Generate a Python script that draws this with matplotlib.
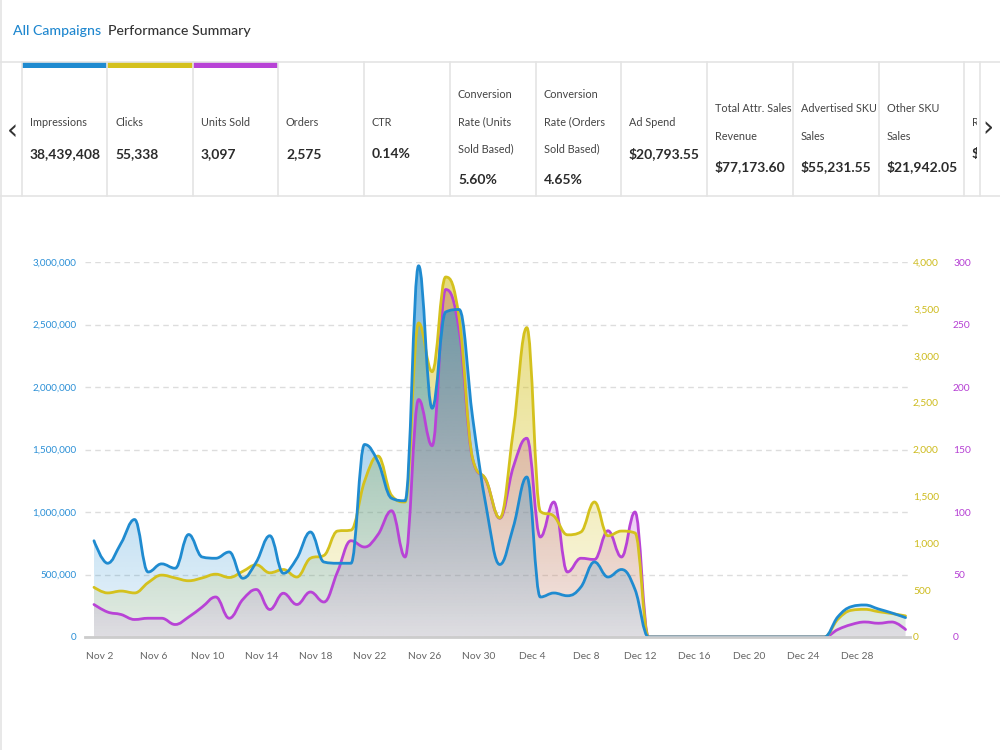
import numpy as np
import pandas as pd
import matplotlib
matplotlib.use('Agg')
import matplotlib.pyplot as plt
from matplotlib.path import Path
from matplotlib.patches import PathPatch, Rectangle
from matplotlib.lines import Line2D
from matplotlib.transforms import ScaledTranslation, Bbox
from matplotlib import font_manager as fm

# daily data, Nov 1 - Dec 31
dates = pd.date_range('2022-11-01', '2022-12-31', freq='D')

impressions = [770000, 590000, 750000, 940000, 520000, 585000, 550000, 820000, 640000, 630000,
               680000, 470000, 600000, 810000, 510000, 630000, 840000, 600000, 590000, 590000,
               1540000, 1400000, 1110000, 1090000, 2970000, 1830000, 2600000, 2620000, 1750000, 1040000,
               580000, 880000, 1280000, 320000, 352000, 330000, 400000, 600000, 480000, 540000,
               380000, 0, 0, 0, 0, 0, 0, 0, 0, 0, 0, 0, 0, 0, 0,
               162000, 243000, 256000, 224000, 192000, 155000]
clicks = [530, 470, 490, 470, 580, 660, 630, 600, 630, 670,
          635, 700, 770, 685, 720, 640, 840, 870, 1130, 1140,
          1660, 1930, 1510, 1440, 3350, 2830, 3840, 3400, 1900, 1670,
          1270, 2200, 3300, 1340, 1290, 1090, 1120, 1440, 1080, 1130,
          1110, 0, 0, 0, 0, 0, 0, 0, 0, 0, 0, 0, 0, 0, 0,
          190, 285, 295, 270, 250, 225]
units_sold = [26, 20, 18, 14, 15, 15, 10, 16, 24, 32,
              15, 30, 38, 22, 35, 26, 36, 28, 52, 77,
              72, 82, 101, 64, 190, 153, 278, 245, 142, 125,
              95, 136, 159, 80, 108, 52, 63, 62, 85, 64,
              100, 0, 0, 0, 0, 0, 0, 0, 0, 0, 0, 0, 0, 0, 0,
              6, 10, 12, 11, 12, 6]

card_labels = ['Impressions', 'Clicks', 'Units Sold', 'Orders', 'CTR',
               'Conversion\nRate (Units\nSold Based)', 'Conversion\nRate (Orders\nSold Based)',
               'Ad Spend', 'Total Attr. Sales\nRevenue', 'Advertised SKU\nSales', 'Other SKU\nSales', 'R']
card_values = ['38,439,408', '55,338', '3,097', '2,575', '0.14%', '5.60%', '4.65%',
               '$20,793.55', '$77,173.60', '$55,231.55', '$21,942.05', '$']

BLUE = '#1f8bd0'
YELLOW = '#d4c11d'
PURPLE = '#b843d6'

# pick a narrow font if there is one
avail = {f.name for f in fm.fontManager.ttflist}
if 'Liberation Sans Narrow' in avail:
    FONT, K = 'Liberation Sans Narrow', 1.0
else:
    FONT, K = 'Lato', 0.82
plt.rcParams['font.family'] = [FONT, 'DejaVu Sans']


def spline(x, y, sm=1.5):
    # highcharts style spline control points
    n = len(x)
    left = [(x[i], y[i]) for i in range(n)]
    right = [(x[i], y[i]) for i in range(n)]
    for i in range(1, n - 1):
        lx, ly, px, py, nx, ny = x[i-1], y[i-1], x[i], y[i], x[i+1], y[i+1]
        lcx = (sm * px + lx) / (sm + 1)
        lcy = (sm * py + ly) / (sm + 1)
        rcx = (sm * px + nx) / (sm + 1)
        rcy = (sm * py + ny) / (sm + 1)
        corr = (rcy - lcy) * (rcx - px) / (rcx - lcx) + py - rcy
        lcy += corr
        rcy += corr
        if lcy > ly and lcy > py:
            lcy = max(ly, py); rcy = 2 * py - lcy
        elif lcy < ly and lcy < py:
            lcy = min(ly, py); rcy = 2 * py - lcy
        if rcy > ny and rcy > py:
            rcy = max(ny, py); lcy = 2 * py - rcy
        elif rcy < ny and rcy < py:
            rcy = min(ny, py); lcy = 2 * py - rcy
        left[i] = (lcx, lcy)
        right[i] = (rcx, rcy)
    verts = [(x[0], y[0])]
    codes = [Path.MOVETO]
    for i in range(1, n):
        verts += [right[i-1], left[i], (x[i], y[i])]
        codes += [Path.CURVE4] * 3
    return verts, codes


fig = plt.figure(figsize=(10, 7.5), dpi=100)
W, H = 1000, 750


def fx(x):
    return x / W


def fy(y):
    return 1 - y / H


# ---- header ----
fig.text(fx(13), fy(31), 'All Campaigns', color='#1f87cf', fontsize=12.4 * K, va='center',
         fontweight='medium')
fig.text(fx(108), fy(31), 'Performance Summary', color='#333333', fontsize=12.4 * K, va='center',
         fontweight='medium')

line_c = '#e4e4e4'
fig.add_artist(Line2D([0, 1], [fy(62), fy(62)], color=line_c, lw=1.2, transform=fig.transFigure))
fig.add_artist(Line2D([0, 1], [fy(196), fy(196)], color=line_c, lw=1.2, transform=fig.transFigure))
fig.add_artist(Line2D([fx(1), fx(1)], [0, 1], color=line_c, lw=1.2, transform=fig.transFigure))

lefts = [22, 107, 193, 278, 364, 450, 536, 621, 707, 793, 879, 964]
for xl in lefts + [980]:
    fig.add_artist(Line2D([fx(xl), fx(xl)], [fy(196), fy(62)], color=line_c, lw=1.2,
                          transform=fig.transFigure))
for i, c in enumerate([BLUE, YELLOW, PURPLE]):
    fig.add_artist(Rectangle((fx(lefts[i]), fy(68)), fx(lefts[i+1] - lefts[i]), 6 / H,
                             color=c, transform=fig.transFigure, lw=0))

line_pos = {1: [123], 2: [108, 136], 3: [95, 122, 149]}
clip = Bbox.from_extents(964, 0, 977, H)
for xl, lab, val in zip(lefts, card_labels, card_values):
    rows = lab.split('\n')
    ys = line_pos[len(rows)]
    for r, yy in zip(rows, ys):
        t = fig.text(fx(xl + 8), fy(yy), r, color='#444444', fontsize=9.6 * K, va='center')
        if xl == 964:
            t.set_clip_box(clip); t.set_clip_on(True)
    t = fig.text(fx(xl + 8), fy(ys[-1] + 31), val, color='#2b2b2b', fontsize=12.2 * K,
                 fontweight='bold', va='center')
    if xl == 964:
        t.set_clip_box(clip); t.set_clip_on(True)

fig.text(fx(12), fy(131), '\u2039', fontsize=20, color='#333333', ha='center', va='center',
         family='DejaVu Sans')
fig.text(fx(988), fy(128), '\u203a', fontsize=20, color='#333333', ha='center', va='center',
         family='DejaVu Sans')

# ---- chart ----
ax = fig.add_axes([fx(85), fy(637), fx(825), 375 / H])
ax2 = ax.twinx()
ax3 = ax.twinx()

x = np.arange(len(dates))
xlim = (-0.665, len(dates) - 1 + 0.33)

series = [(units_sold, ax3, PURPLE), (clicks, ax2, YELLOW), (impressions, ax, BLUE)]
grad_h = np.linspace(0, 1, 256)
for z, (vals, axk, col) in enumerate(series):
    verts, codes = spline(list(x), list(vals))
    fill_verts = verts + [(x[-1], 0), (x[0], 0), (x[0], 0)]
    fill_codes = codes + [Path.LINETO, Path.LINETO, Path.CLOSEPOLY]
    area = PathPatch(Path(fill_verts, fill_codes), transform=axk.transData, facecolor='none',
                     edgecolor='none')
    rgba = np.zeros((256, 2, 4))
    rgba[..., :3] = matplotlib.colors.to_rgb(col)
    rgba[..., 3] = (0.10 + 0.50 * grad_h)[:, None]
    im = ax.imshow(rgba, extent=[xlim[0], xlim[1], 0, 3000000], origin='lower', aspect='auto',
                   zorder=1 + z, interpolation='bilinear')
    im.set_clip_path(area)

for z, (vals, axk, col) in enumerate(series):
    verts, codes = spline(list(x), list(vals))
    ax.add_patch(PathPatch(Path(verts, codes), transform=axk.transData, fill=False,
                           edgecolor=col, lw=2, zorder=5 + z, capstyle='round', joinstyle='round'))

ax.set_xlim(*xlim)
ax.set_ylim(0, 3000000)
ax2.set_ylim(0, 4000)
ax3.set_ylim(0, 300)

ax.set_yticks(range(0, 3000001, 500000))
ax.set_yticklabels([f'{v:,}' for v in range(0, 3000001, 500000)])
ax2.set_yticks(range(0, 4001, 500))
ax2.set_yticklabels([f'{v:,}' for v in range(0, 4001, 500)])
ax3.set_yticks(range(0, 301, 50))
ax3.set_yticklabels([str(v) for v in range(0, 301, 50)])

ax.tick_params(axis='y', colors='#2a8fd6', length=0, pad=6, labelsize=8.7 * K)
ax2.tick_params(axis='y', colors='#cdbb1c', length=0, pad=2.2, labelsize=9 * K)
ax3.tick_params(axis='y', colors='#b640d4', length=0, pad=31, labelsize=9 * K)

tick_idx = x[1::4]
ax.set_xticks(tick_idx)
ax.set_xticklabels([f'{d:%b} {d.day}' for d in dates[1::4]])
ax.tick_params(axis='x', colors='#666666', length=0, pad=11, labelsize=9 * K)
shift = ScaledTranslation(-8 / 100, 0, fig.dpi_scale_trans)
for lab in ax.get_xticklabels():
    lab.set_transform(lab.get_transform() + shift)

ax.yaxis.grid(True, color='#dddddd', linestyle=(0, (4, 3)), lw=1)
ax.set_axisbelow(True)
for a in (ax, ax2, ax3):
    for s in ('top', 'left', 'right', 'bottom'):
        a.spines[s].set_visible(False)
ax.spines['bottom'].set_visible(True)
ax.spines['bottom'].set_color('#cccccc')
ax.spines['bottom'].set_linewidth(2)
ax.spines['bottom'].set_zorder(10)
ax.patch.set_visible(False)

fig.savefig('out.png', dpi=100)
